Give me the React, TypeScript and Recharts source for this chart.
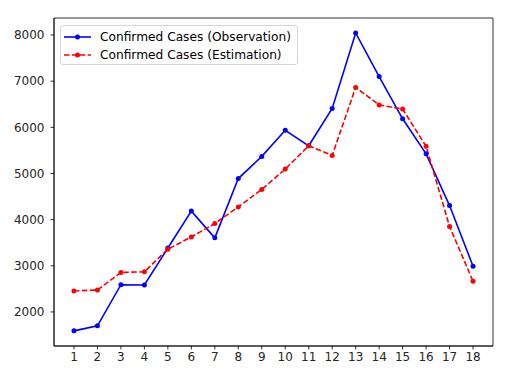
import React from 'react';
import { LineChart, Line, XAxis, YAxis, ReferenceArea } from 'recharts';

const days = [1, 2, 3, 4, 5, 6, 7, 8, 9, 10, 11, 12, 13, 14, 15, 16, 17, 18];
const observed = [1590, 1700, 2590, 2585, 3385, 4185, 3605, 4890, 5370, 5935, 5600, 6410, 8045, 7100, 6185, 5425, 4305, 2990];
const estimated = [2455, 2475, 2855, 2870, 3360, 3625, 3915, 4275, 4655, 5095, 5600, 5390, 6865, 6485, 6395, 5590, 3850, 2665];
const yTicks = [2000, 3000, 4000, 5000, 6000, 7000, 8000];

const data = days.map((d, i) => ({ day: d, obs: observed[i], est: estimated[i] }));

const X_DOMAIN = [0.15, 18.85];
const Y_DOMAIN = [1262, 8369];
const FONT = '"DejaVu Sans", sans-serif';
const DASH = '5.5 2.4';

const LegendBox = () => (
  <div
    style={{
      position: 'absolute',
      left: 60,
      top: 25,
      width: 238,
      height: 40,
      border: '1px solid #d6d6d6',
      borderRadius: 3,
      background: 'rgba(255,255,255,0.8)',
      fontFamily: FONT,
      fontSize: 12.2,
      color: '#000',
      boxSizing: 'border-box',
      padding: '2px 0 0 3px',
    }}
  >
    {[
      { label: 'Confirmed Cases (Observation)', color: '#0000ff', dash: undefined },
      { label: 'Confirmed Cases (Estimation)', color: '#ff0000', dash: DASH },
    ].map((it) => (
      <div key={it.label} style={{ display: 'flex', alignItems: 'center', height: 18 }}>
        <svg width={28} height={10} style={{ marginRight: 8 }}>
          <line x1={0} y1={5} x2={27} y2={5} stroke={it.color} strokeWidth={1.6} strokeDasharray={it.dash} />
          <circle cx={13.5} cy={5} r={2.5} fill={it.color} />
        </svg>
        <span>{it.label}</span>
      </div>
    ))}
  </div>
);

export default function App() {
  return (
    <div style={{ position: 'absolute', left: 0, top: 0, width: 521, height: 380, background: '#fff' }}>
      <LineChart width={521} height={380} data={data} margin={{ top: 18, right: 28, bottom: 0, left: 0 }}>
        <XAxis
          dataKey="day"
          type="number"
          domain={X_DOMAIN}
          ticks={days}
          allowDataOverflow
          interval={0}
          height={34}
          axisLine={{ stroke: '#000', strokeWidth: 0.8 }}
          tickLine={{ stroke: '#000', strokeWidth: 0.8 }}
          tickSize={3.5}
          tickMargin={3}
          tick={{ fill: '#262626', fontSize: 12, fontFamily: FONT }}
        />
        <YAxis
          type="number"
          domain={Y_DOMAIN}
          ticks={yTicks}
          allowDataOverflow
          width={54}
          axisLine={{ stroke: '#000', strokeWidth: 0.8 }}
          tickLine={{ stroke: '#000', strokeWidth: 0.8 }}
          tickSize={3.5}
          tickMargin={6}
          tick={{ fill: '#262626', fontSize: 12, fontFamily: FONT }}
        />
        <ReferenceArea
          x1={X_DOMAIN[0]}
          x2={X_DOMAIN[1]}
          y1={Y_DOMAIN[0]}
          y2={Y_DOMAIN[1]}
          fill="none"
          stroke="#000"
          strokeWidth={0.8}
        />
        <Line
          dataKey="obs"
          stroke="#0000ff"
          strokeWidth={1.6}
          dot={{ r: 2.5, fill: '#0000ff', stroke: 'none' }}
          isAnimationActive={false}
        />
        <Line
          dataKey="est"
          stroke="#ff0000"
          strokeWidth={1.6}
          strokeDasharray={DASH}
          dot={{ r: 2.5, fill: '#ff0000', stroke: 'none', strokeDasharray: '' }}
          isAnimationActive={false}
        />
      </LineChart>
      <LegendBox />
    </div>
  );
}
